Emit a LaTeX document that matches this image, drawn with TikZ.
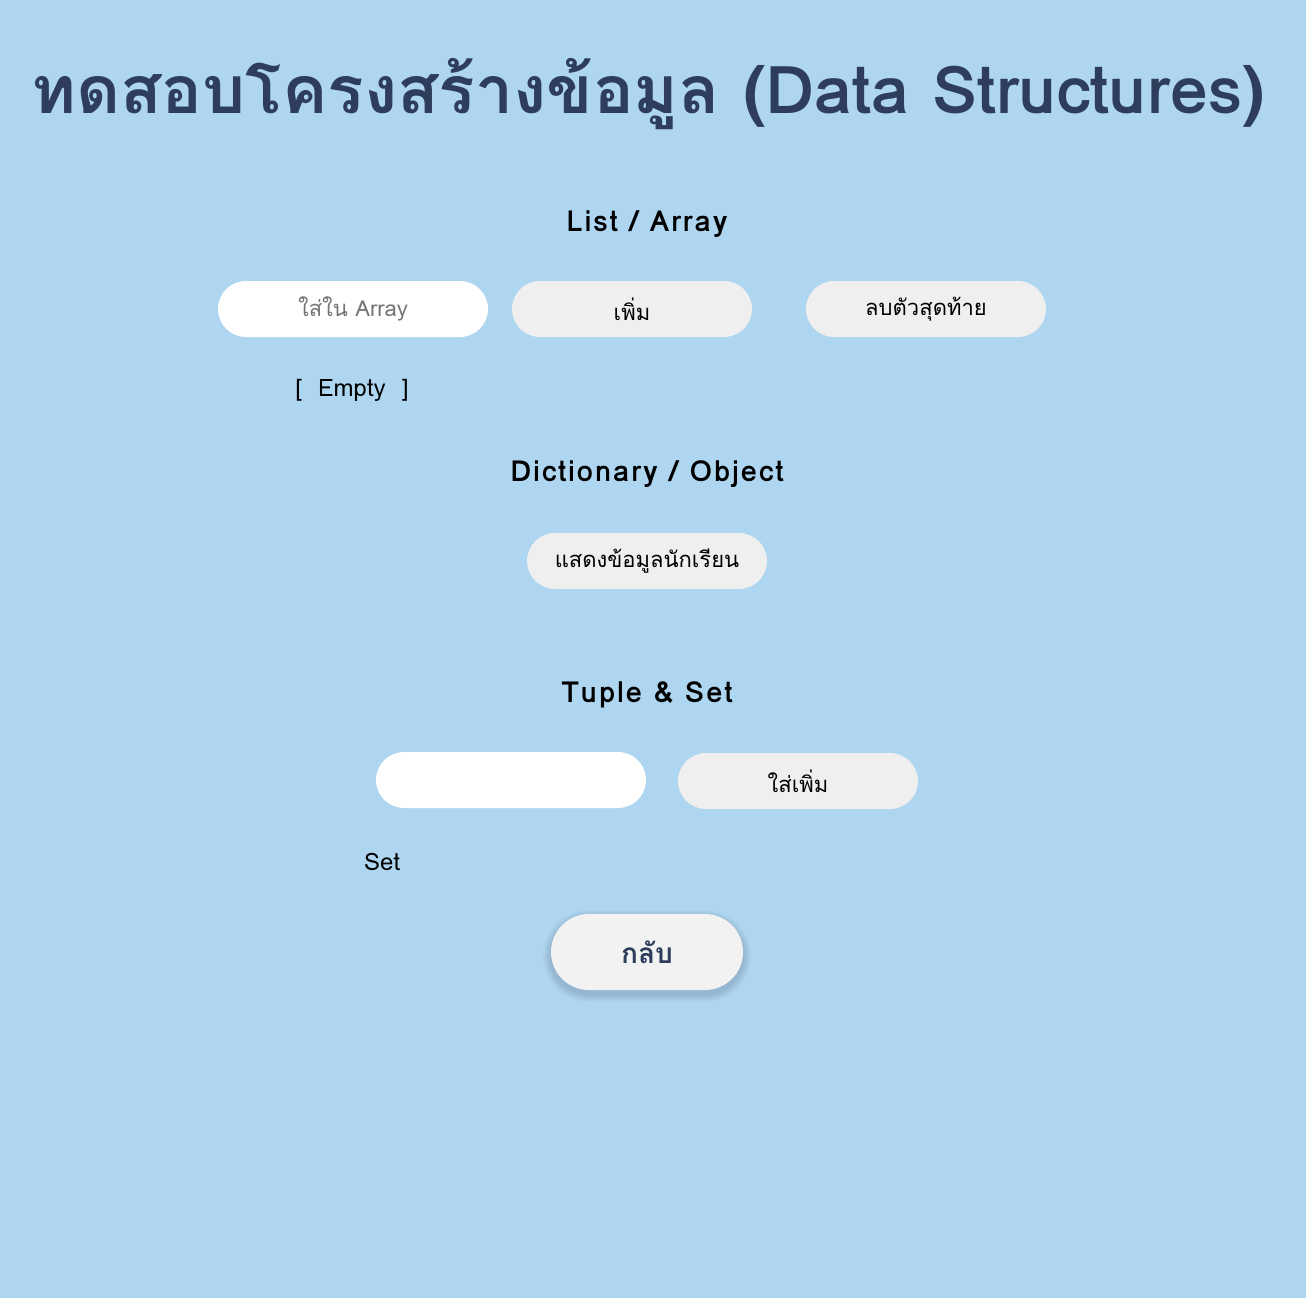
\documentclass[tikz,border=0pt]{standalone}
\usepackage{fontspec}
\usepackage{graphicx}
\setmainfont[Script=Thai]{Loma}
\newfontfamily\headfont[Script=Thai,LetterSpace=7]{Loma}
\definecolor{bgblue}{HTML}{AED6F0}
\definecolor{navy}{HTML}{2F3D5C}
\definecolor{btngray}{HTML}{EFEFEF}
\definecolor{backgray}{HTML}{F2F2F2}
\definecolor{phgray}{HTML}{757575}
\tikzset{
  pill/.style={rounded corners=28pt, inner sep=0pt, minimum height=56pt, text width=#1, align=center},
  inputbox/.style={pill=270pt, fill=white, minimum width=270pt},
  btnbox/.style={pill=240pt, fill=btngray, minimum width=240pt},
  btntext/.style={font=\fontsize{22}{26}\selectfont},
  heading/.style={font=\headfont\fontsize{29}{33}\selectfont\bfseries},
  plain/.style={font=\fontsize{24}{28}\selectfont},
}
\begin{document}
\begin{tikzpicture}[x=1pt,y=-1pt]
\useasboundingbox[fill=bgblue] (0,0) rectangle (1306,1298);
\node[font=\fontsize{66}{72}\selectfont\bfseries, text=navy] (title) at (648,94) {\scalebox{1.03}[1]{ทดสอบโครงสร้างข้อมูล (Data Structures)}};
\node[heading] (h1) at (647,224) {List / Array};
\node[inputbox, btntext, text=phgray] (in1) at (353,309) {ใส่ใน Array};
\node[btnbox, btntext] (add) at (632,309) {เพิ่ม};
\node[btnbox, btntext] (del) at (926,309) {ลบตัวสุดท้าย};
\node[plain] (empty) at (352,390) {[\ \ Empty\ \ ]};
\node[heading] (h2) at (647,474) {Dictionary / Object};
\node[btnbox, btntext] (show) at (647,561) {แสดงข้อมูลนักเรียน};
\node[heading] (h3) at (647,695) {Tuple \& Set};
\node[inputbox] (in2) at (511,780) {};
\node[btnbox, btntext] (add2) at (798,781) {ใส่เพิ่ม};
\node[plain, anchor=west, inner sep=0pt] (set) at (364,862) {Set};
\foreach \i in {1,...,8}{
  \fill[navy, opacity=0.025, rounded corners={38pt+\i pt}] (551-\i,918-\i) rectangle (743+\i,994+\i);
}
\node[fill=backgray, rounded corners=38pt, minimum width=192pt, minimum height=76pt, inner sep=0pt,
  font=\fontsize{28}{32}\selectfont\bfseries, text=navy] (back) at (647,952) {กลับ};
\end{tikzpicture}
\end{document}
